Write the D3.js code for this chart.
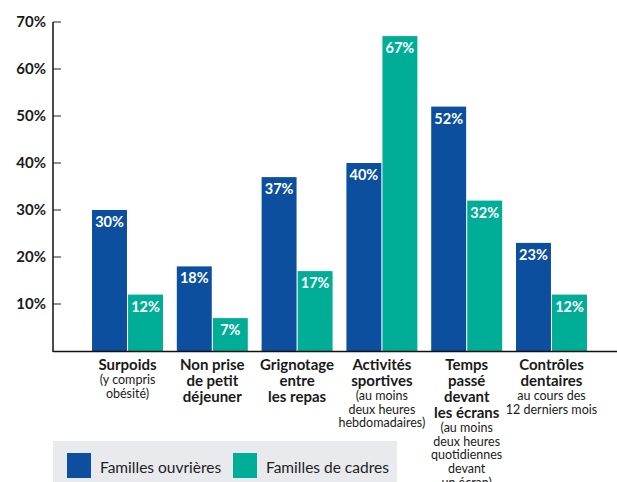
<!DOCTYPE html>
<html>
<head>
<meta charset="utf-8">
<script src="https://cdn.jsdelivr.net/npm/d3@7"></script>
<style>
  html, body { margin: 0; padding: 0; background: #fff; }
  svg { display: block; font-family: Lato, "Noto Sans", sans-serif; }
</style>
</head>
<body>
<svg id="chart" width="617" height="482"></svg>
<script>
const categories = ["Surpoids", "Non prise de petit déjeuner", "Grignotage entre les repas", "Activités sportives", "Temps passé devant les écrans", "Contrôles dentaires"];
const titleLines = [
  ["Surpoids"],
  ["Non prise", "de petit", "déjeuner"],
  ["Grignotage", "entre", "les repas"],
  ["Activités", "sportives"],
  ["Temps", "passé", "devant", "les écrans"],
  ["Contrôles", "dentaires"]
];
const subLines = [
  ["(y compris", "obésité)"],
  [],
  [],
  ["(au moins", "deux heures", "hebdomadaires)"],
  ["(au moins", "deux heures", "quotidiennes", "devant", "un écran)"],
  ["au cours des", "12 derniers mois"]
];
const seriesNames = ["Familles ouvrières", "Familles de cadres"];
const ouvrieres = [30, 18, 37, 40, 52, 23];
const cadres = [12, 7, 17, 67, 32, 12];
const yTicks = [10, 20, 30, 40, 50, 60, 70];
const colors = ["#0b4f9e", "#00ad97"];

const svg = d3.select("#chart");
const y = d3.scaleLinear().domain([0, 70]).range([351, 22]);
const x0 = d3.scaleBand().domain(categories).range([78.2, 600.8]).paddingInner(0.163).paddingOuter(0.163);
const x1 = d3.scaleBand().domain(seriesNames).range([0, x0.bandwidth()]).paddingInner(0.03);
const color = d3.scaleOrdinal().domain(seriesNames).range(colors);

// y ticks
const tickG = svg.append("g");
tickG.selectAll("line").data(yTicks).join("line")
  .attr("x1", 53).attr("x2", 61)
  .attr("y1", d => y(d)).attr("y2", d => y(d))
  .attr("stroke", "#555").attr("stroke-width", 1.3);
tickG.selectAll("text").data(yTicks).join("text")
  .attr("x", 46).attr("y", d => y(d) + 5)
  .attr("text-anchor", "end")
  .attr("font-weight", 700).attr("font-size", 15).attr("fill", "#1a1a1a")
  .text(d => d + "%");

// bars
const data = categories.map((c, i) => ({ cat: c, values: [
  { s: seriesNames[0], v: ouvrieres[i] },
  { s: seriesNames[1], v: cadres[i] }
]}));
const groups = svg.append("g").selectAll("g").data(data).join("g")
  .attr("transform", d => `translate(${x0(d.cat)},0)`);
groups.selectAll("rect").data(d => d.values).join("rect")
  .attr("x", d => x1(d.s)).attr("width", x1.bandwidth())
  .attr("y", d => y(d.v)).attr("height", d => y(0) - y(d.v))
  .attr("fill", d => color(d.s));
groups.selectAll("text").data(d => d.values).join("text")
  .attr("x", d => x1(d.s) + x1.bandwidth() / 2)
  .attr("y", d => y(d.v) + 17)
  .attr("text-anchor", "middle")
  .attr("font-weight", 700).attr("font-size", 14.5).attr("fill", "#fff")
  .text(d => d.v + "%");

// axes lines
svg.append("line").attr("x1", 53).attr("x2", 53).attr("y1", y(70)).attr("y2", y(0) + 1)
  .attr("stroke", "#111").attr("stroke-width", 1.5);
svg.append("line").attr("x1", 53).attr("x2", 617).attr("y1", y(0) + 0.5).attr("y2", y(0) + 0.5)
  .attr("stroke", "#111").attr("stroke-width", 1.5);

// category labels (one text element per category, lines as tspans)
categories.forEach((c, i) => {
  const cx = x0(c) + x0.bandwidth() / 2;
  const txt = svg.append("text").attr("x", cx).attr("y", 370).attr("text-anchor", "middle")
    .attr("fill", "#1a1a1a");
  titleLines[i].forEach((line, j) => {
    txt.append("tspan").attr("x", cx).attr("dy", j === 0 ? 0 : 16)
      .attr("font-weight", 700).attr("font-size", 15).text(line);
  });
  subLines[i].forEach((line, j) => {
    txt.append("tspan").attr("x", cx).attr("dy", j === 0 ? 14 : 13.7)
      .attr("font-size", 12.5).text(line);
  });
});

// legend
const leg = svg.append("g");
leg.append("rect").attr("x", 53).attr("y", 441).attr("width", 344).attr("height", 41).attr("fill", "#e9eaee");
const legX = [67, 233];
seriesNames.forEach((s, i) => {
  leg.append("rect").attr("x", legX[i]).attr("y", 453).attr("width", 24).attr("height", 25).attr("fill", color(s));
  leg.append("text").attr("x", legX[i] + 33).attr("y", 473).attr("font-size", 15.5).attr("fill", "#222").text(s);
});
</script>
</body>
</html>
